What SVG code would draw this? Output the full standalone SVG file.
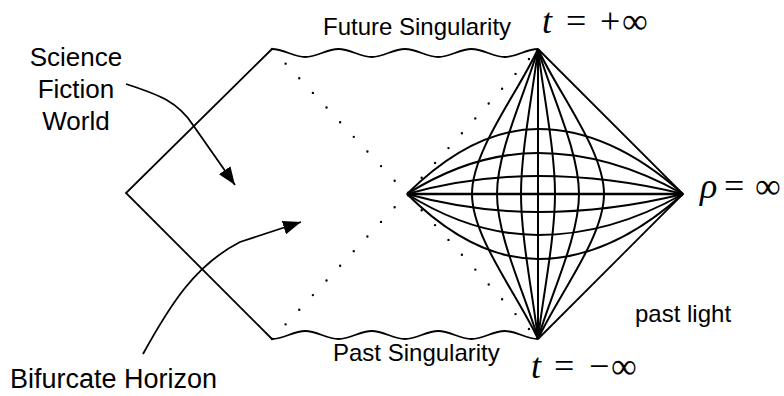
<svg xmlns="http://www.w3.org/2000/svg" width="784" height="396" viewBox="0 0 784 396">
<style>
.ln{fill:none;stroke:#000;stroke-width:1.8;stroke-linejoin:miter}
.gr{fill:none;stroke:#000;stroke-width:2}
.dot{fill:none;stroke:#000;stroke-width:2.4;stroke-linecap:round;stroke-dasharray:0 20}
.lbl{font-family:"Liberation Sans",Arial,Helvetica,sans-serif;fill:#000}
.math{font-family:"Liberation Serif","Times New Roman",serif;fill:#000}
.it{font-style:italic}
</style>
<defs>
<marker id="ah" markerUnits="userSpaceOnUse" markerWidth="18" markerHeight="14" refX="18" refY="7" orient="auto" viewBox="0 0 18 14">
<path d="M0,0 L18,7 L0,14 z" fill="#000"/>
</marker>
</defs>
<rect width="784" height="396" fill="#fff"/>

<g id="left-region">
<path class="ln" d="M272,49 L126,193 L272,339"/>
</g>

<g id="future-singularity">
<path class="ln" d="M272,49 C284,49 293.25,57 305.25,57 S326.5,49 338.5,49 S359.75,57 371.75,57 S393,49 405,49 S426.25,57 438.25,57 S459.5,49 471.5,49 S492.75,57 504.75,57 S526,49 538,49"/>
</g>

<g id="past-singularity">
<path class="ln" d="M272,339 C284,339 293.25,331 305.25,331 S326.5,339 338.5,339 S359.75,331 371.75,331 S393,339 405,339 S426.25,331 438.25,331 S459.5,339 471.5,339 S492.75,331 504.75,331 S526,339 538,339"/>
</g>

<g id="horizons">
<path class="dot" d="M272,49 L407,194 L538,339"/>
<path class="dot" d="M272,339 L407,194 L538,49"/>
</g>

<g id="rindler-wedge">
<path class="ln" d="M538,49 L683,194 L538,339"/>
<g id="constant-t">
<path class="gr" d="M407,194 L683,194" style="stroke-width:2.6"/>
<path class="gr" d="M407,194 Q472.5,176 538,176 Q610.5,176 683,194"/>
<path class="gr" d="M407,194 Q472.5,153 538,153 Q610.5,153 683,194"/>
<path class="gr" d="M407,194 Q472.5,129 538,129 Q610.5,129 683,194"/>
<path class="gr" d="M407,194 Q472.5,212 538,212 Q610.5,212 683,194"/>
<path class="gr" d="M407,194 Q472.5,235 538,235 Q610.5,235 683,194"/>
<path class="gr" d="M407,194 Q472.5,259 538,259 Q610.5,259 683,194"/>
</g>
<g id="constant-rho">
<path class="gr" d="M538,49 L538,339"/>
<path class="gr" d="M538,49 C543.1,92.5 555,150.5 555,194 C555,237.5 543.1,295.5 538,339"/>
<path class="gr" d="M538,49 C550.3,92.5 579,150.5 579,194 C579,237.5 550.3,295.5 538,339"/>
<path class="gr" d="M538,49 C557.8,92.5 604,150.5 604,194 C604,237.5 557.8,295.5 538,339"/>
<path class="gr" d="M538,49 C532.9,92.5 521,150.5 521,194 C521,237.5 532.9,295.5 538,339"/>
<path class="gr" d="M538,49 C525.7,92.5 497,150.5 497,194 C497,237.5 525.7,295.5 538,339"/>
<path class="gr" d="M538,49 C518.2,92.5 472,150.5 472,194 C472,237.5 518.2,295.5 538,339"/>
</g>
</g>

<g id="connectors">
<path class="ln" d="M126,84 C160,95 178,102 193,125 L235,185" marker-end="url(#ah)"/>
<path class="ln" d="M143,354 C170,305 195,265 240,242 L301,222" marker-end="url(#ah)"/>
</g>

<g id="label-science">
<text class="lbl" font-size="26" text-anchor="middle"><tspan x="76" y="66">Science</tspan><tspan x="76" y="98">Fiction</tspan><tspan x="76" y="130">World</tspan></text>
</g>
<g id="label-future">
<text class="lbl" font-size="24" x="323" y="35">Future Singularity</text>
</g>
<g id="label-past">
<text class="lbl" font-size="24" x="333" y="361">Past Singularity</text>
</g>
<g id="label-bifurcate">
<text class="lbl" font-size="27" x="10" y="388">Bifurcate Horizon</text>
</g>
<g id="label-pastlight">
<text class="lbl" font-size="24" x="635" y="322">past light</text>
</g>
<g id="label-tplus">
<text class="math" font-size="36" y="33"><tspan class="it" x="542">t</tspan><tspan x="566">=</tspan><tspan x="600">+</tspan><tspan x="622">∞</tspan></text>
</g>
<g id="label-tminus">
<text class="math" font-size="36" y="378"><tspan class="it" x="531">t</tspan><tspan x="554">=</tspan><tspan x="589">−</tspan><tspan x="611">∞</tspan></text>
</g>
<g id="label-rho">
<text class="math" font-size="36" y="198"><tspan class="it" x="700">ρ</tspan><tspan x="724">=</tspan><tspan x="755">∞</tspan></text>
</g>
</svg>
